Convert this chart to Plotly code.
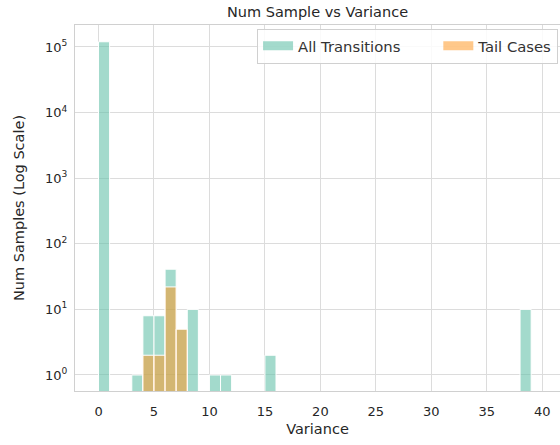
import plotly.graph_objects as go

# Histogram data (bin width 1, left edges)
all_bin_left = [0, 3, 4, 5, 6, 7, 8, 10, 11, 15, 38]
all_counts = [120000, 1, 8, 8, 41, 5, 10, 1, 1, 2, 10]
tail_bin_left = [4, 5, 6, 7]
tail_counts = [2, 2, 22, 5]
bin_width = 1.0

x_ticks = [0, 5, 10, 15, 20, 25, 30, 35, 40]
y_ticks = [1, 10, 100, 1000, 10000, 100000]
y_ticktext = ["10<sup>%d</sup>" % i for i in range(6)]
series_names = ["All Transitions", "Tail Cases"]

teal = "rgba(102,194,170,0.6)"
orange = "rgba(255,150,30,0.52)"
font = "DejaVu Sans"

fig = go.Figure()
fig.add_trace(go.Bar(
    x=[b + bin_width / 2 for b in all_bin_left], y=all_counts, width=bin_width,
    marker=dict(color=teal, line=dict(color="white", width=1)),
    showlegend=False))
fig.add_trace(go.Bar(
    x=[b + bin_width / 2 for b in tail_bin_left], y=tail_counts, width=bin_width,
    marker=dict(color=orange, line=dict(color="white", width=1)),
    showlegend=False))
# legend swatches
fig.add_trace(go.Scatter(x=[None], y=[None], mode="lines",
                         name=series_names[0] + "\u00a0" * 7,
                         line=dict(color=teal, width=9)))
fig.add_trace(go.Scatter(x=[None], y=[None], mode="lines", name=series_names[1],
                         line=dict(color=orange, width=9)))

fig.update_layout(
    width=560, height=445,
    margin=dict(l=75, r=0, t=25, b=54),
    barmode="overlay",
    plot_bgcolor="white", paper_bgcolor="white",
    font=dict(family=font, color="#262626", size=13),
    title=dict(text="Num Sample vs Variance", x=0.5, xref="paper", xanchor="center",
               y=1 - 12 / 445, yanchor="middle", font=dict(size=14.5, color="#262626")),
    legend=dict(orientation="h", x=0.996, xanchor="right", y=0.99, yanchor="top",
                bgcolor="rgba(255,255,255,0.85)", bordercolor="#d0d0d0", borderwidth=1,
                font=dict(size=14.8, color="#333333"), itemwidth=30, tracegroupgap=0),
    xaxis=dict(range=[-2.12, 41.6], tickvals=x_ticks, showgrid=True, gridcolor="#dcdcdc",
               gridwidth=1, showline=True, linecolor="#d0d0d0", mirror=True, zeroline=False,
               ticks="", tickfont=dict(size=13), ticklabelstandoff=8,
               title=dict(text="Variance", font=dict(size=14.5), standoff=6)),
    yaxis=dict(type="log", range=[-0.244, 5.335], tickvals=y_ticks, ticktext=y_ticktext,
               showgrid=True, gridcolor="#dcdcdc", gridwidth=1, showline=True,
               linecolor="#d0d0d0", mirror=True, zeroline=False, ticks="",
               tickfont=dict(size=13), ticklabelstandoff=4,
               title=dict(text="Num Samples (Log Scale)", font=dict(size=14.5), standoff=16)),
)
fig.write_html("out.html")
